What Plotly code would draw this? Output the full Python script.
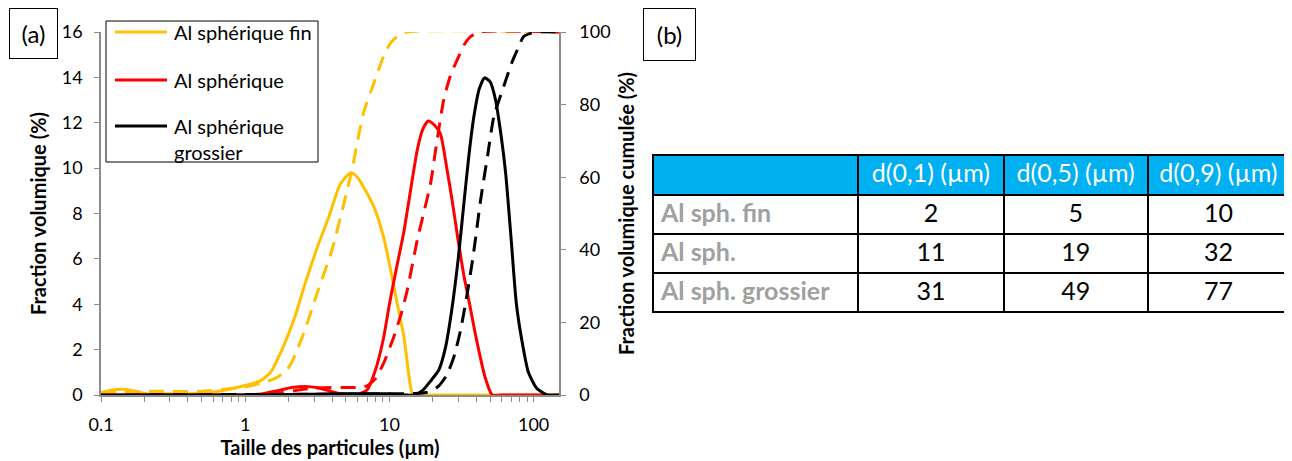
import plotly.graph_objects as go

W, H = 1292, 461
OX, OY = 8, 8  # page body margin offset

# ---------------- data ----------------
fin_x = [0.1, 0.12, 0.14, 0.17, 0.2, 0.3, 0.5, 0.7, 1.0, 1.27, 1.5, 1.8, 2.2, 2.6, 3.2, 3.8, 4.57, 5.4,
         6.0, 6.6, 7.8, 9.1, 10.1, 11.2, 12.6, 13.9, 14.6, 20, 150]
fin_freq = [0.1, 0.22, 0.25, 0.18, 0.07, 0.05, 0.08, 0.2, 0.42, 0.62, 1.0, 2.0, 3.4, 4.9, 6.6, 7.85, 9.3, 9.8,
            9.6, 9.18, 8.3, 6.97, 5.65, 4.19, 2.57, 0.51, 0.0, 0.0, 0.0]
fin_cx = [0.1, 0.13, 0.2, 0.3, 0.5, 0.7, 1.0, 1.27, 1.6, 1.95, 2.16, 2.6, 3.15, 4.0, 5.1, 5.5, 6.6, 7.8, 9.1,
          10.2, 11.3, 13.3, 150]
fin_cum = [0.3, 0.8, 1.0, 1.0, 1.0, 1.5, 2.3, 3.2, 4.5, 6.9, 10, 18, 28, 40, 56.5, 62, 77.6, 85.9, 93.2,
           97, 98.7, 100, 100]

sph_x = [0.1, 0.5, 1.0, 1.3, 1.7, 2.1, 2.6, 3.2, 4.0, 5.0, 6.0, 7.0, 8.0, 9.1, 10, 11.2, 12.6, 14, 15.6,
         17, 18.6, 20.5, 22.6, 25, 27.2, 30, 33, 36, 40, 46, 51.6, 60, 150]
sph_freq = [0, 0, 0, 0.05, 0.2, 0.33, 0.38, 0.32, 0.15, 0.02, 0.02, 0.22, 1.1, 2.5, 4.0, 5.6, 7.2, 9.0,
            10.8, 11.7, 12.08, 11.9, 11.5, 10.0, 8.6, 6.8, 5.2, 4.0, 2.5, 0.8, 0, 0, 0]
sph_cx = [0.1, 1.0, 1.3, 1.7, 2.2, 2.8, 3.5, 5.0, 6.0, 7.0, 8.0, 9.1, 10.5, 12, 13.3, 15.6, 17.5, 19.3, 21,
          23.8, 26.5, 29.5, 33, 36.5, 42, 150]
sph_cum = [0, 0, 0.1, 0.5, 1.2, 1.8, 2.0, 2.1, 2.1, 2.5, 4.5, 8.7, 15, 22, 28.9, 42.7, 51, 58.3, 68,
           81.3, 88, 92.3, 96.5, 98.7, 100, 100]

gro_x = [0.1, 1, 5, 10, 15, 17, 19.2, 22, 24.5, 27, 30, 32.8, 35.5, 38.5, 42, 45.7, 50, 54.5, 59, 64, 70,
         76, 84, 92, 105, 124, 150]
gro_freq = [0, 0, 0.05, 0.05, 0, 0.2, 0.6, 1.1, 2.1, 3.7, 6.0, 8.4, 10.5, 12.26, 13.5, 13.98, 13.8, 13.0,
            11.6, 9.77, 6.8, 4.0, 2.2, 1.0, 0.3, 0, 0]
gro_cx = [0.1, 10, 15, 18, 20, 22, 25, 28, 31, 34, 38, 42.9, 48, 53, 62, 71, 78, 85, 95, 106, 150]
gro_cum = [0, 0.3, 0.4, 0.7, 1.3, 2.5, 5.5, 10.5, 17.5, 26, 38, 53.7, 66, 76.7, 85, 91.8, 95.5, 98.7, 99.6, 100, 100]

series_names = ["Al sphérique fin", "Al sphérique", "Al sphérique<br>grossier"]
series_colors = ["#FFC000", "#FF0000", "#000000"]

x_ticks = [0.1, 0.2, 0.3, 0.4, 0.5, 0.6, 0.7, 0.8, 0.9, 1, 2, 3, 4, 5, 6, 7, 8, 9,
           10, 20, 30, 40, 50, 60, 70, 80, 90, 100]
x_tick_labels = ["0.1" if v == 0.1 else (str(int(v)) if v in (1, 10, 100) else "") for v in x_ticks]

tbl_header = ["", "d(0,1) (µm)", "d(0,5) (µm)", "d(0,9) (µm)"]
tbl_rows = ["Al sph. fin", "Al sph.", "Al sph. grossier"]
tbl_d10 = [2, 11, 31]
tbl_d50 = [5, 19, 49]
tbl_d90 = [10, 32, 77]

FONT = "Lato"


def px(x):
    return (x - OX) / W


def py(y):
    return 1 - (y - OY) / H


fig = go.Figure()

freq = [(fin_x, fin_freq), (sph_x, sph_freq), (gro_x, gro_freq)]
cum = [(fin_cx, fin_cum), (sph_cx, sph_cum), (gro_cx, gro_cum)]

for i in range(3):
    fig.add_trace(go.Scatter(x=cum[i][0], y=cum[i][1], mode="lines", yaxis="y2",
                             line=dict(color=series_colors[i], width=3, dash="15px,9px", shape="spline", smoothing=0.6),
                             showlegend=False, hoverinfo="skip"))
for i in range(3):
    fig.add_trace(go.Scatter(x=freq[i][0], y=freq[i][1], mode="lines", name=series_names[i].replace("<br>", " "),
                             showlegend=False,
                             line=dict(color=series_colors[i], width=3, shape="spline", smoothing=0.6)))

fig.add_trace(go.Table(
    domain=dict(x=[px(653), px(1289)], y=[py(318), py(155)]),
    columnwidth=[205, 145, 144, 141],
    header=dict(values=tbl_header, fill_color="#00B0F0", align="center",
                font=dict(family=FONT, size=25, color="white"),
                line=dict(color="black", width=2), height=40),
    cells=dict(values=[tbl_rows, tbl_d10, tbl_d50, tbl_d90], fill_color="white",
               align=["left", "center", "center", "center"],
               font=dict(family=FONT, size=25, color=[["#A0A0A0"] * 3, "black", "black", "black"],
                         weight=["bold", "normal", "normal", "normal"]),
               line=dict(color="black", width=2), height=39),
))

# hand-built legend box (layout decoration)
legend_line_y = [32, 80, 126]
legend_text_y = [32, 80, 139]
shapes = [dict(type="rect", xref="paper", yref="paper", x0=px(106), x1=px(318), y0=py(162), y1=py(21),
               line=dict(color="black", width=1), fillcolor="white", layer="above")]
annotations = []
for i in range(3):
    shapes.append(dict(type="line", xref="paper", yref="paper", x0=px(115), x1=px(167),
                       y0=py(legend_line_y[i]), y1=py(legend_line_y[i]),
                       line=dict(color=series_colors[i], width=3), layer="above"))
    annotations.append(dict(text=series_names[i], x=px(172), y=py(legend_text_y[i]), xref="paper", yref="paper",
                            xanchor="left", yanchor="middle", align="left", showarrow=False,
                            font=dict(size=20)))

annotations += [
    dict(text="(a)", x=px(8.5), y=py(8.5), xref="paper", yref="paper", xanchor="left", yanchor="top",
         showarrow=False, width=47, height=49, bordercolor="black", borderwidth=1, borderpad=0,
         font=dict(size=24)),
    dict(text="(b)", x=px(643), y=py(8.5), xref="paper", yref="paper", xanchor="left", yanchor="top",
         showarrow=False, width=51, height=51, bordercolor="black", borderwidth=1, borderpad=0,
         font=dict(size=24)),
]

axis_gray = "#8C8C8C"
fig.update_layout(
    width=W, height=H,
    margin=dict(l=0, r=0, t=0, b=0, autoexpand=False),
    paper_bgcolor="white", plot_bgcolor="white",
    font=dict(family=FONT, size=18, color="black"),
    showlegend=False,
    xaxis=dict(type="log", domain=[px(101), px(559)], range=[-1, 2.1761],
               tickvals=x_ticks, ticktext=x_tick_labels, ticks="outside", ticklen=5,
               tickcolor=axis_gray, showline=True, linecolor=axis_gray, linewidth=1.5,
               showgrid=False, zeroline=False, tickfont=dict(size=18), ticklabelstandoff=8,
               title=dict(text="<b>Taille des particules (µm)</b>", font=dict(size=20), standoff=2)),
    yaxis=dict(domain=[py(395), py(32)], range=[0, 16], dtick=2,
               ticks="outside", ticklen=5, tickcolor=axis_gray, showline=True, linecolor=axis_gray,
               linewidth=1.5, showgrid=False, zeroline=False, tickfont=dict(size=18), ticklabelstandoff=8,
               title=dict(text="<b>Fraction volumique (%)</b>", font=dict(size=20), standoff=10)),
    yaxis2=dict(overlaying="y", side="right", range=[0, 100], dtick=20, anchor="x",
                ticks="outside", ticklen=5, tickcolor=axis_gray, showline=True, linecolor=axis_gray,
                linewidth=1.5, showgrid=False, zeroline=False, tickfont=dict(size=18), ticklabelstandoff=10,
                title=dict(text="<b>Fraction volumique cumulée (%)</b>", font=dict(size=20), standoff=10)),
    shapes=shapes,
    annotations=annotations,
)

fig.write_html("out.html")
